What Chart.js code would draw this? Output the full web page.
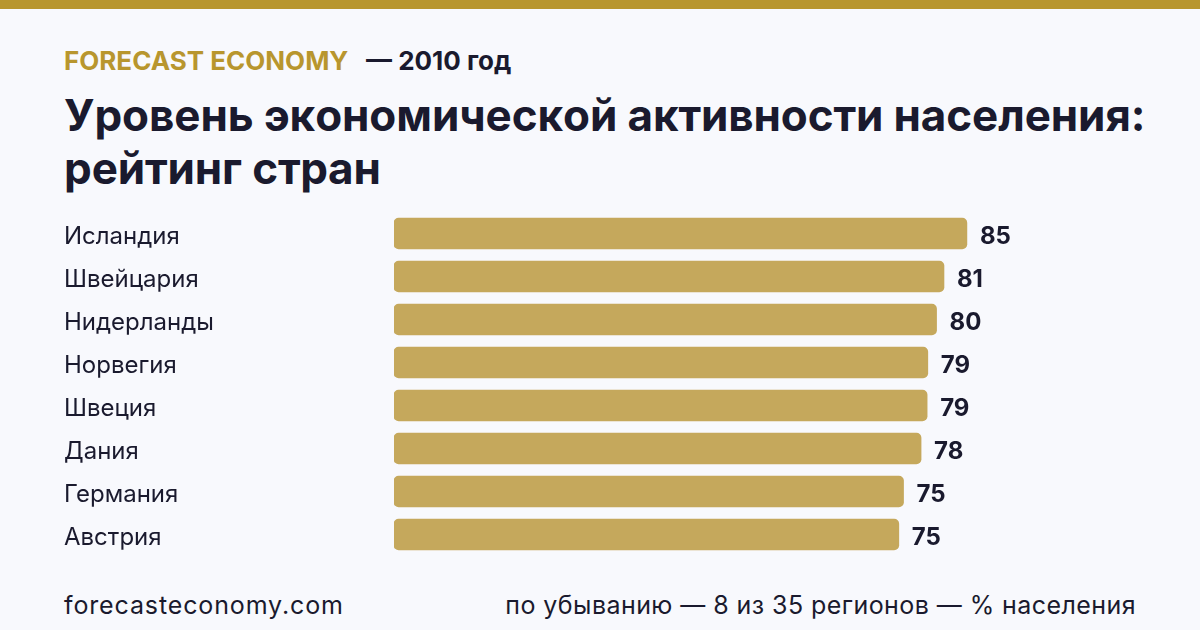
<!DOCTYPE html>
<html><head><meta charset="utf-8">
<style>
html,body{margin:0;padding:0;background:#f8f9fd;width:1200px;height:630px;overflow:hidden;font-family:Inter,sans-serif}
#bar{position:absolute;left:0;top:0;width:1200px;height:9px;background:#b8962e}
.t{position:absolute;white-space:nowrap;color:#1a1a2e}
#wrap{position:absolute;left:0;top:0;width:1200px;height:630px}
</style></head><body>
<div id="bar"></div>
<div class="t" style="left:64px;top:46px;font-size:26px;font-weight:700;line-height:30px;color:#b8962e">FORECAST ECONOMY</div>
<div class="t" style="left:366px;top:46px;font-size:26px;font-weight:700;line-height:30px">— 2010 год</div>
<div class="t" style="left:64px;top:89px;font-size:44px;font-weight:700;line-height:53px;font-kerning:none;letter-spacing:-.09px">Уровень экономической активности населения:<br>рейтинг стран</div>
<div class="t" style="left:64px;top:590px;font-size:25px;line-height:30px;letter-spacing:.87px">forecasteconomy.com</div>
<div class="t" style="right:64px;top:590px;font-size:25px;line-height:30px;letter-spacing:.43px">по убыванию — 8 из 35 регионов — % населения</div>
<div id="wrap"><canvas id="c" width="1200" height="630"></canvas></div>
<script src="https://cdn.jsdelivr.net/npm/chart.js@4"></script>
<script>
const categories=["Исландия","Швейцария","Нидерланды","Норвегия","Швеция","Дания","Германия","Австрия"];
const values=[85.0,81.6,80.5,79.2,79.1,78.2,75.6,74.9];
const labels=["85","81","80","79","79","78","75","75"];
const valueLabels={id:'valueLabels',afterDatasetsDraw(ch){const g=ch.ctx;g.save();g.font='700 24px Inter';g.fillStyle='#1a1a2e';g.textBaseline='middle';
ch.getDatasetMeta(0).data.forEach((b,i)=>g.fillText(labels[i],b.x+13,b.y+3));g.restore();}};
new Chart(document.getElementById('c'),{type:'bar',data:{labels:categories,datasets:[{data:values,backgroundColor:'#c5a85c',borderRadius:5,borderSkipped:false,barThickness:31}]},
options:{indexAxis:'y',responsive:false,animation:false,
layout:{padding:{left:64,right:132,top:212,bottom:74}},
plugins:{legend:{display:false},tooltip:{enabled:false}},
scales:{x:{min:0,max:100,display:false},
y:{grid:{display:false},border:{display:false},afterFit(a){a.width=330;},ticks:{crossAlign:'far',padding:0,labelOffset:3,color:'#1a1a2e',font:{family:'Inter',size:24}}}}},
plugins:[valueLabels]});
</script></body></html>
